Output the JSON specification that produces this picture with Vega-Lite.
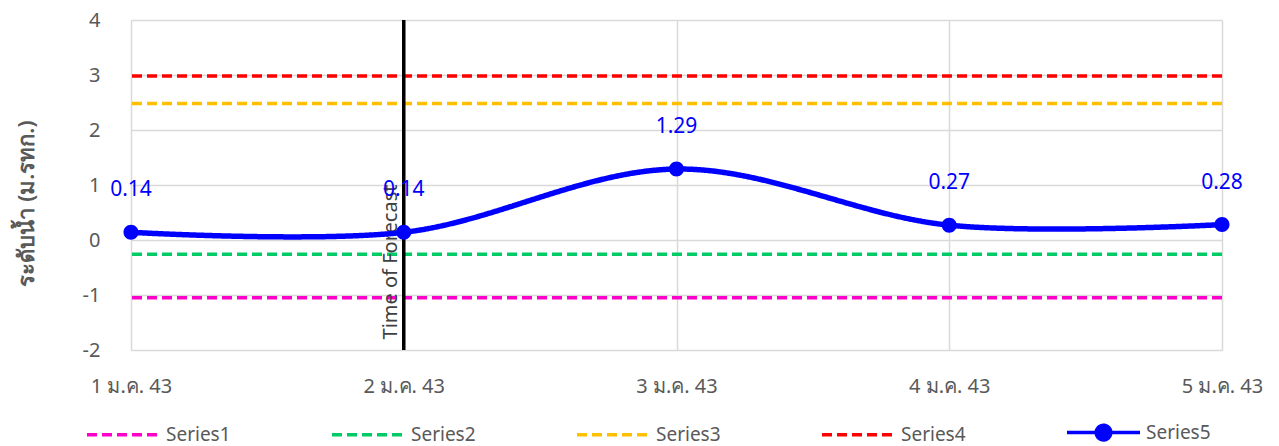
{
  "$schema": "https://vega.github.io/schema/vega-lite/v6.json",
  "width": 1091,
  "height": 330,
  "autosize": {"type": "none"},
  "padding": {"left": 131, "top": 20, "right": 57, "bottom": 96},
  "config": {
    "font": "Noto Sans",
    "view": {"stroke": null},
    "axis": {
      "labelFont": "Noto Sans",
      "labelFontSize": 20,
      "labelColor": "#595959",
      "gridColor": "#d9d9d9",
      "gridWidth": 1.5,
      "ticks": false
    },
    "legend": {
      "title": null,
      "orient": "none",
      "direction": "horizontal",
      "legendX": -46,
      "legendY": 374,
      "symbolSize": 5329,
      "symbolStrokeWidth": 3.5,
      "labelFontSize": 19,
      "labelColor": "#595959",
      "labelOffset": 4,
      "columnPadding": 94
    }
  },
  "datasets": {
    "levels": [
      {"series": "Series1", "level": -1.05},
      {"series": "Series2", "level": -0.26},
      {"series": "Series3", "level": 2.48},
      {"series": "Series4", "level": 2.98}
    ],
    "obs": [
      {"date": "1 ม.ค. 43", "series": "Series5", "value": 0.14, "label": "0.14"},
      {"date": "2 ม.ค. 43", "series": "Series5", "value": 0.14, "label": "0.14"},
      {"date": "3 ม.ค. 43", "series": "Series5", "value": 1.29, "label": "1.29"},
      {"date": "4 ม.ค. 43", "series": "Series5", "value": 0.27, "label": "0.27"},
      {"date": "5 ม.ค. 43", "series": "Series5", "value": 0.28, "label": "0.28"}
    ],
    "forecast": [
      {"date": "2 ม.ค. 43", "text": "Time of Forecast", "pos": -0.4}
    ]
  },
  "encoding": {
    "x": {
      "field": "date",
      "type": "ordinal",
      "scale": {"type": "point", "padding": 0, "domain": ["1 ม.ค. 43", "2 ม.ค. 43", "3 ม.ค. 43", "4 ม.ค. 43", "5 ม.ค. 43"]},
      "axis": {"title": null, "labelAngle": 0, "labelPadding": 26, "grid": true, "domain": false}
    }
  },
  "layer": [
    {
      "data": {"name": "levels"},
      "mark": {"type": "rule", "strokeWidth": 3.5},
      "encoding": {
        "x": null,
        "y": {
          "field": "level",
          "type": "quantitative",
          "scale": {"domain": [-2, 4], "nice": false, "zero": false},
          "axis": {
            "title": "ระดับน้ำ (ม.รทก.)",
            "titleFontSize": 22,
            "titleFontWeight": 600,
            "titleColor": "#595959",
            "titlePadding": 44,
            "titleY": 183,
            "labelPadding": 31,
            "values": [-2, -1, 0, 1, 2, 3, 4],
            "labelExpr": "'' + datum.value",
            "domain": false,
            "grid": true
          }
        },
        "color": {
          "field": "series",
          "type": "nominal",
          "scale": {
            "domain": ["Series1", "Series2", "Series3", "Series4", "Series5"],
            "range": ["#ff00cc", "#00cc66", "#ffc000", "#ff0000", "#0000ff"]
          }
        },
        "strokeDash": {
          "field": "series",
          "type": "nominal",
          "scale": {
            "domain": ["Series1", "Series2", "Series3", "Series4", "Series5"],
            "range": [[10, 5], [10, 5], [10, 5], [10, 5], [1, 0]]
          }
        }
      }
    },
    {
      "data": {"name": "forecast"},
      "mark": {"type": "rule", "color": "black", "strokeWidth": 3.5},
      "encoding": {}
    },
    {
      "data": {"name": "forecast"},
      "mark": {"type": "text", "angle": 270, "align": "center", "baseline": "bottom", "dy": -3, "fontSize": 20, "color": "#404040", "font": "Noto Sans"},
      "encoding": {
        "y": {"field": "pos", "type": "quantitative"},
        "text": {"field": "text"}
      }
    },
    {
      "data": {"name": "obs"},
      "mark": {"type": "line", "interpolate": "catmull-rom", "strokeWidth": 5.5},
      "encoding": {
        "y": {"field": "value", "type": "quantitative"},
        "color": {"field": "series", "type": "nominal"},
        "strokeDash": {"field": "series", "type": "nominal"}
      }
    },
    {
      "data": {"name": "obs"},
      "mark": {"type": "point", "filled": true, "size": 5625, "opacity": 1},
      "encoding": {
        "y": {"field": "value", "type": "quantitative"},
        "color": {"field": "series", "type": "nominal"},
        "shape": {
          "field": "series",
          "type": "nominal",
          "scale": {
            "domain": ["Series1", "Series2", "Series3", "Series4", "Series5"],
            "range": ["M-1,0H1", "M-1,0H1", "M-1,0H1", "M-1,0H1", "M-1,0H1M0.2,0A0.2,0.2,0,1,1,-0.2,0A0.2,0.2,0,1,1,0.2,0Z"]
          }
        }
      }
    },
    {
      "data": {"name": "obs"},
      "mark": {"type": "text", "dy": -42, "fontSize": 21, "color": "#0000ff", "font": "Noto Sans"},
      "encoding": {
        "y": {"field": "value", "type": "quantitative"},
        "text": {"field": "label"}
      }
    }
  ]
}
